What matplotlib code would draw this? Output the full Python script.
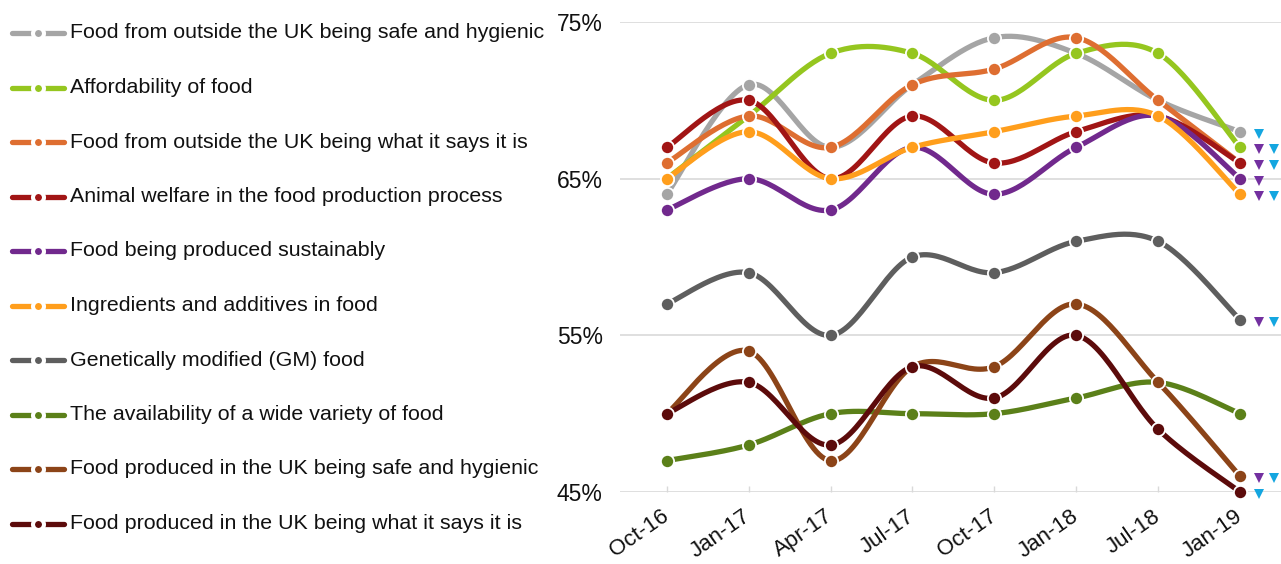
import numpy as np
import matplotlib
matplotlib.use("agg")
import matplotlib.pyplot as plt
from matplotlib.transforms import ScaledTranslation

plt.rcParams["font.family"] = ["Liberation Sans", "DejaVu Sans"]

periods = ["Oct-16", "Jan-17", "Apr-17", "Jul-17", "Oct-17", "Jan-18", "Jul-18", "Jan-19"]

labels = [
    "Food from outside the UK being safe and hygienic",
    "Affordability of food",
    "Food from outside the UK being what it says it is",
    "Animal welfare in the food production process",
    "Food being produced sustainably",
    "Ingredients and additives in food",
    "Genetically modified (GM) food",
    "The availability of a wide variety of food",
    "Food produced in the UK being safe and hygienic",
    "Food produced in the UK being what it says it is",
]

outside_safe = [64, 71, 67, 71, 74, 73, 70, 68]
affordability = [65, 69, 73, 73, 70, 73, 73, 67]
outside_says = [66, 69, 67, 71, 72, 74, 70, 66]
animal_welfare = [67, 70, 65, 69, 66, 68, 69, 66]
sustainable = [63, 65, 63, 67, 64, 67, 69, 65]
ingredients = [65, 68, 65, 67, 68, 69, 69, 64]
gm_food = [57, 59, 55, 60, 59, 61, 61, 56]
variety = [47, 48, 50, 50, 50, 51, 52, 50]
uk_safe = [50, 54, 47, 53, 53, 57, 52, 46]
uk_says = [50, 52, 48, 53, 51, 55, 49, 45]

series = [outside_safe, affordability, outside_says, animal_welfare, sustainable,
          ingredients, gm_food, variety, uk_safe, uk_says]

colors = ["#A5A5A5", "#95C61F", "#DE6E31", "#A11515", "#71298D",
          "#FF9E1C", "#5E5E5E", "#5B8019", "#8C4418", "#5C0B0B"]

# significance markers at the last wave: (vs previous wave, vs first wave)
sig_prev = [False, True, False, True, True, True, True, False, True, False]
sig_first = [True, True, False, True, False, True, True, False, True, True]
sig_colors = ["#7330A0", "#14A6E0"]


def smooth(y, n=30):
    # Catmull-Rom curve through the points (similar to Excel smoothed lines)
    y = np.asarray(y, float)
    x = np.arange(len(y), dtype=float)
    px = np.concatenate([[x[0]], x, [x[-1]]])
    py = np.concatenate([[y[0]], y, [y[-1]]])
    xs, ys = [], []
    for i in range(1, len(px) - 2):
        p0, p1, p2, p3 = (np.array([px[j], py[j]]) for j in range(i - 1, i + 3))
        c1 = p1 + (p2 - p0) / 6
        c2 = p2 - (p3 - p1) / 6
        t = np.linspace(0, 1, n)[:, None]
        b = (1 - t) ** 3 * p1 + 3 * (1 - t) ** 2 * t * c1 + 3 * (1 - t) * t ** 2 * c2 + t ** 3 * p2
        xs.append(b[:, 0])
        ys.append(b[:, 1])
    return np.concatenate(xs), np.concatenate(ys)


fig = plt.figure(figsize=(12.81, 5.64), dpi=100)
ax = fig.add_axes([620 / 1281, 72 / 564, 661 / 1281, 470 / 564])

x = np.arange(len(periods))
for i, (vals, c) in enumerate(zip(series, colors)):
    sx, sy = smooth(vals)
    ax.plot(sx, sy, color=c, lw=3.8, solid_capstyle="round", zorder=3 + i, clip_on=False)
    ax.plot(x, vals, "o", color=c, ms=9.5, mec="white", mew=1.3, zorder=3 + i, clip_on=False)

    marks = []
    if sig_prev[i]:
        marks.append(sig_colors[0])
    if sig_first[i]:
        marks.append(sig_colors[1])
    for k, mc in enumerate(marks):
        off = ScaledTranslation((14 + 10.5 * k) / 72, -1.5 / 72, fig.dpi_scale_trans)
        ax.plot(x[-1], vals[-1], "v", color=mc, ms=6.5, mew=0,
                transform=ax.transData + off, zorder=20, clip_on=False)

ax.set_xlim(-0.57, 7.5)
ax.set_ylim(45, 75)
ax.set_yticks([45, 55, 65, 75])
ax.set_yticklabels(["45%", "55%", "65%", "75%"])
ax.set_xticks(x)
ax.set_xticklabels(periods, rotation=35, ha="right", va="center", rotation_mode="anchor")
ax.tick_params(axis="y", length=0, pad=12.5, labelsize=16.5, labelcolor="#111111")
ax.tick_params(axis="x", length=4, direction="in", color="#D9D9D9", width=1,
               pad=16, labelsize=16, labelcolor="#111111")
ax.grid(axis="y", color="#D9D9D9", lw=1.2)
ax.set_axisbelow(True)
for s in ax.spines.values():
    s.set_visible(False)

# legend drawn on its own axes in pixel units
lax = fig.add_axes([0, 0, 1, 1], facecolor="none")
lax.set_xlim(0, 1281)
lax.set_ylim(564, 0)
lax.axis("off")
for i, (lab, c) in enumerate(zip(labels, colors)):
    yy = 33 + i * 54.5
    lax.plot([12, 64], [yy, yy], color=c, lw=3.8, solid_capstyle="round")
    lax.plot([38], [yy], "o", color=c, ms=7.9, mec="white", mew=2.9)
    lax.text(70, yy, lab, fontsize=15.4, va="center", ha="left", color="#111111")

plt.savefig("out.png", dpi=100)
plt.close()
